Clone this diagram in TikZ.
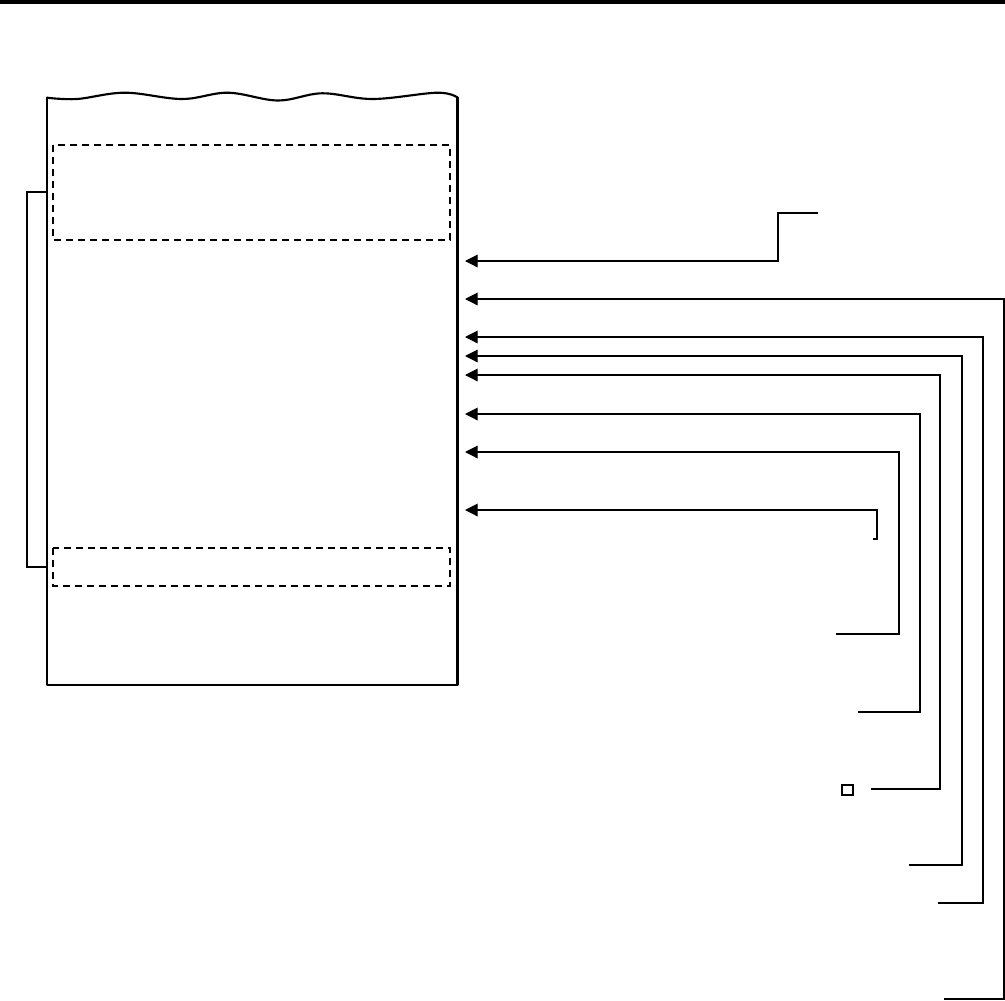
\documentclass[tikz,border=0pt]{standalone}
\usetikzlibrary{arrows.meta}
\begin{document}
\begin{tikzpicture}[x=0.75pt,y=-0.75pt,
  paper/.style={line width=1.6pt, line join=round, line cap=round},
  dashbox/.style={line width=0.8pt, dash pattern=on 5pt off 4pt},
  lead/.style={line width=0.9pt},
  leadarrow/.style={lead, {Triangle[length=9.5pt,width=9.5pt]}-}]
\useasboundingbox (0,0) rectangle (1005,1000);
% top bar
\fill (0,0) rectangle (1005,4);
% paper
\coordinate (ptl) at (47,97.7);
\coordinate (pbl) at (47,685);
\coordinate (pbr) at (457.5,685);
\coordinate (ptr) at (457.5,97.5);
\draw[paper] (ptl) -- (pbl) -- (pbr) -- (ptr);
\draw[paper] plot[smooth,tension=0.6] coordinates {(47,97.7) (77,99) (125,92.7) (182,99) (228,92.7) (278,100.5) (322,93.3) (373,99) (437,92.7) (457.5,97.5)};
% dashed areas
\draw[dashbox] (53,145) rectangle (450,240);
\draw[dashbox] (53,548) rectangle (450,586);
% bracket
\coordinate (bka) at (47,192);
\coordinate (bkb) at (27,567);
\coordinate (bkc) at (47,567);
\draw[lead] (bka) -| (bkb) -- (bkc);
% leader lines
\coordinate (t1) at (465,261);  \coordinate (k1) at (778,213);  \coordinate (e1) at (818,213);
\coordinate (t2) at (465,299);  \coordinate (k2) at (1004,999); \coordinate (e2) at (944,999);
\coordinate (t3) at (465,337);  \coordinate (k3) at (983,903);  \coordinate (e3) at (938,903);
\coordinate (t4) at (465,356);  \coordinate (k4) at (962,865);  \coordinate (e4) at (909,865);
\coordinate (t5) at (465,375);  \coordinate (k5) at (940,789);  \coordinate (e5) at (871,789);
\coordinate (t6) at (465,414);  \coordinate (k6) at (920,712);  \coordinate (e6) at (858,712);
\coordinate (t7) at (465,452);  \coordinate (k7) at (899,634);  \coordinate (e7) at (836,634);
\coordinate (t8) at (465,510);  \coordinate (k8) at (877,539);  \coordinate (e8) at (873,539);
\foreach \i in {1,...,8}{
  \draw[leadarrow] (t\i) -| (k\i) -- (e\i);
}
% small square
\draw[lead] (842,785) rectangle (853,795);
\end{tikzpicture}
\end{document}
